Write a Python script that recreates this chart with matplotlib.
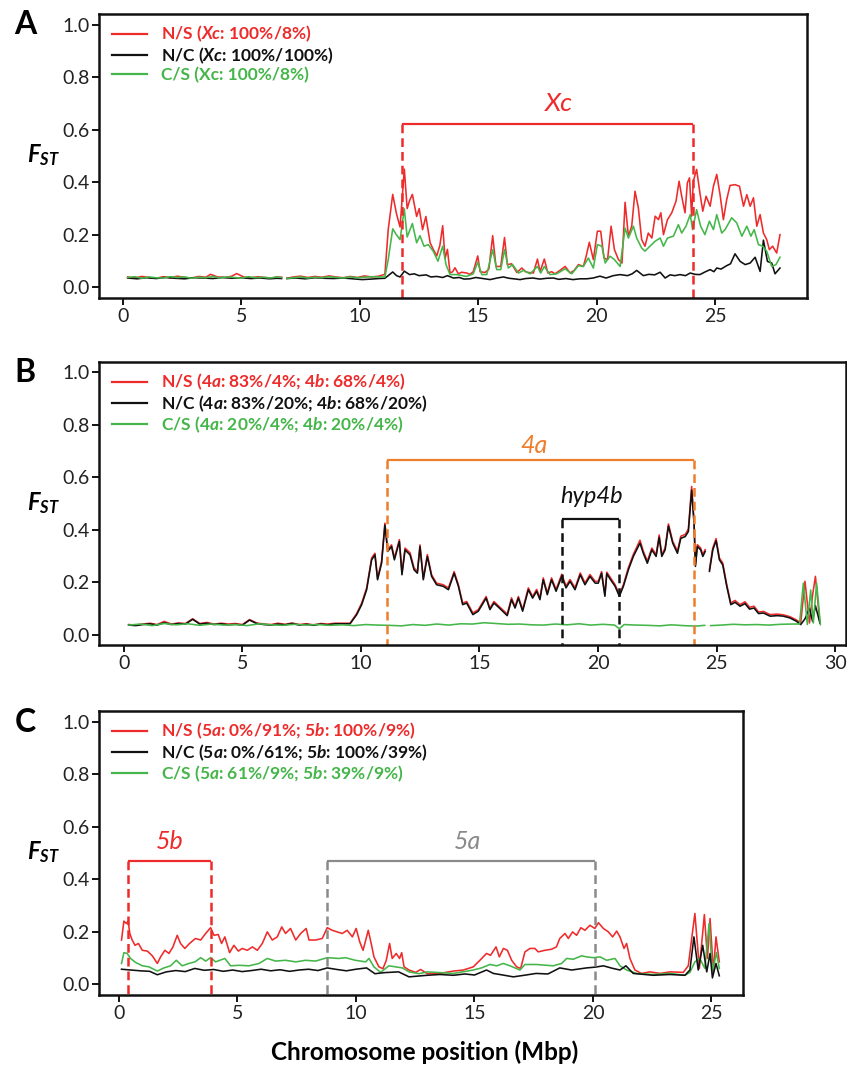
import numpy as np
import matplotlib
matplotlib.use('Agg')
import matplotlib.pyplot as plt

plt.rcParams['font.family'] = ['Lato', 'DejaVu Sans']
plt.rcParams['mathtext.fontset'] = 'custom'
plt.rcParams['mathtext.it'] = 'Lato:italic:bold'
plt.rcParams['mathtext.rm'] = 'Lato:bold'
plt.rcParams['mathtext.bf'] = 'Lato:bold'

nan = np.nan
RED = '#ee2b2b'
GREEN = '#45b649'
BLACK = '#111111'
ORANGE = '#ee7d2c'
GREY = '#8a8a8a'

# ---------------- panel A (Xc) ----------------
a_ns_x = [0.2,0.5,0.8,1.1,1.4,1.7,2.0,2.3,2.6,2.9,3.2,3.5,3.7,4.0,4.3,4.6,4.8,5.1,5.4,5.7,6.0,6.3,6.5,6.7,nan,
          6.92,7.2,7.5,7.8,8.1,8.4,8.7,9.0,9.3,9.6,9.9,10.2,10.5,10.8,
          11.06,11.2,11.39,11.55,11.7,11.88,12.0,12.1,12.22,12.4,12.51,12.65,12.79,12.97,13.1,13.25,13.38,13.5,13.6,13.7,
          13.81,13.92,14.02,14.16,14.3,14.51,14.65,14.79,14.98,15.08,15.29,15.45,15.61,15.75,15.95,16.11,16.23,16.41,
          16.63,16.84,17.0,17.12,17.33,17.5,17.61,17.79,17.94,18.1,18.24,18.45,18.67,18.88,19.05,19.23,19.44,19.56,
          19.69,19.86,20.03,20.17,20.31,20.46,20.61,20.75,20.92,21.07,21.2,21.34,21.48,21.62,21.76,21.9,22.04,22.18,
          22.33,22.47,22.61,22.71,22.82,22.99,23.17,23.35,23.48,23.59,23.73,23.83,23.92,24.01,24.08,24.22,24.36,24.48,
          24.62,24.79,24.93,25.07,25.21,25.35,25.49,25.63,25.84,26.03,26.2,26.34,26.48,26.62,26.76,26.9,27.04,27.18,
          27.29,27.43,27.6,27.74]
a_ns_y = [0.040,0.036,0.042,0.038,0.035,0.041,0.037,0.043,0.038,0.036,0.042,0.039,0.050,0.040,0.038,0.043,0.053,0.040,0.037,0.041,0.038,0.036,0.040,0.039,nan,
          0.035,0.040,0.043,0.038,0.042,0.039,0.044,0.040,0.037,0.042,0.038,0.044,0.040,0.043,
          0.050,0.220,0.354,0.280,0.230,0.450,0.300,0.330,0.354,0.270,0.300,0.220,0.270,0.170,0.145,0.120,0.160,0.235,0.110,0.145,
          0.055,0.060,0.075,0.052,0.058,0.055,0.050,0.060,0.120,0.060,0.057,0.070,0.197,0.080,0.080,0.190,0.087,0.090,
          0.057,0.074,0.060,0.057,0.055,0.108,0.060,0.108,0.055,0.060,0.052,0.065,0.080,0.055,0.065,0.087,0.080,0.120,
          0.172,0.106,0.214,0.214,0.112,0.106,0.233,0.144,0.106,0.093,0.324,0.195,0.233,0.366,0.303,0.182,0.157,0.207,
          0.188,0.271,0.258,0.284,0.201,0.258,0.284,0.328,0.404,0.347,0.284,0.398,0.417,0.271,0.404,0.449,0.359,0.290,
          0.347,0.309,0.385,0.430,0.353,0.258,0.334,0.388,0.391,0.385,0.309,0.353,0.309,0.341,0.233,0.277,0.207,0.182,
          0.144,0.157,0.131,0.201]

a_cs_x = [0.2,0.5,0.8,1.1,1.4,1.7,2.0,2.3,2.6,2.9,3.2,3.5,3.8,4.1,4.4,4.7,5.0,5.3,5.6,5.9,6.2,6.5,6.7,nan,
          6.92,7.2,7.5,7.8,8.1,8.4,8.7,9.0,9.3,9.6,9.9,10.2,10.5,10.8,
          11.06,11.2,11.39,11.55,11.7,11.88,12.0,12.22,12.4,12.54,12.71,12.89,13.1,13.3,13.5,13.64,13.81,14.09,14.51,
          14.79,14.98,15.15,15.36,15.61,15.78,15.95,16.11,16.27,16.45,16.7,16.91,17.19,17.5,17.64,17.79,18.03,18.31,
          18.67,18.95,19.23,19.44,19.65,19.86,20.03,20.22,20.36,20.56,20.75,20.99,21.2,21.34,21.55,21.69,21.9,22.04,
          22.25,22.47,22.68,22.82,22.99,23.24,23.45,23.59,23.77,23.95,24.05,24.22,24.39,24.57,24.76,24.93,25.07,25.28,
          25.42,25.7,25.91,26.13,26.34,26.51,26.65,26.83,27.01,27.18,27.39,27.57,27.74]
a_cs_y = [0.038,0.041,0.035,0.040,0.037,0.036,0.041,0.038,0.040,0.035,0.039,0.037,0.042,0.036,0.040,0.038,0.036,0.041,0.037,0.039,0.036,0.040,0.038,nan,
          0.034,0.037,0.040,0.036,0.039,0.037,0.041,0.038,0.036,0.040,0.037,0.039,0.041,0.040,
          0.040,0.106,0.223,0.200,0.182,0.299,0.192,0.243,0.170,0.197,0.157,0.163,0.138,0.100,0.157,0.087,0.049,0.049,0.042,
          0.052,0.096,0.049,0.049,0.144,0.068,0.068,0.144,0.074,0.087,0.055,0.065,0.052,0.080,0.055,0.080,0.049,0.052,
          0.071,0.052,0.083,0.080,0.112,0.074,0.163,0.157,0.093,0.119,0.106,0.080,0.226,0.188,0.233,0.188,0.150,0.138,
          0.157,0.176,0.188,0.157,0.188,0.195,0.239,0.207,0.233,0.277,0.220,0.296,0.233,0.201,0.252,0.220,0.277,0.207,
          0.220,0.265,0.246,0.195,0.233,0.195,0.220,0.163,0.157,0.138,0.080,0.087,0.115]

a_nc_x = [0.2,0.6,1.0,1.4,1.8,2.2,2.6,3.0,3.4,3.8,4.2,4.6,5.0,5.4,5.8,6.2,6.5,6.7,nan,
          6.92,7.3,7.7,8.1,8.5,8.9,9.3,9.7,10.1,10.5,10.8,
          11.06,11.2,11.39,11.55,11.7,11.88,12.1,12.3,12.5,12.8,13.0,13.25,13.5,13.7,13.95,14.2,14.4,14.65,14.9,15.2,
          15.5,15.8,16.06,16.3,16.5,16.77,17.0,17.3,17.6,17.9,18.17,18.4,18.7,19.0,19.3,19.58,19.85,20.14,20.4,20.7,
          20.99,21.3,21.5,21.69,21.97,22.2,22.45,22.68,22.89,23.1,23.3,23.52,23.75,23.95,24.15,24.36,24.55,24.79,
          24.95,25.07,25.25,25.49,25.65,25.84,26.06,26.27,26.48,26.69,26.9,27.04,27.21,27.39,27.53,27.74]
a_nc_y = [0.036,0.033,0.037,0.034,0.038,0.035,0.033,0.037,0.036,0.034,0.038,0.035,0.037,0.034,0.036,0.033,0.035,0.034,nan,
          0.034,0.036,0.033,0.037,0.035,0.034,0.036,0.033,0.030,0.032,0.034,
          0.035,0.045,0.059,0.045,0.040,0.062,0.049,0.052,0.045,0.048,0.040,0.042,0.038,0.045,0.036,0.038,0.032,0.033,0.038,0.034,
          0.030,0.036,0.040,0.035,0.033,0.030,0.034,0.036,0.032,0.035,0.036,0.031,0.034,0.030,0.033,0.033,0.036,0.043,0.036,0.045,
          0.049,0.045,0.052,0.065,0.045,0.050,0.048,0.058,0.036,0.048,0.045,0.049,0.045,0.055,0.050,0.049,0.058,0.068,
          0.060,0.074,0.070,0.083,0.090,0.128,0.099,0.087,0.093,0.115,0.061,0.180,0.099,0.093,0.052,0.074]

# ---------------- panel B (4a / hyp4b) ----------------
b_x = [0.2,0.5,0.8,1.1,1.4,1.7,2.0,2.3,2.6,2.9,3.2,3.5,3.8,4.1,4.4,4.7,5.0,5.3,5.6,5.9,6.2,6.5,6.8,7.1,7.4,7.7,8.0,8.3,8.6,8.9,
       9.11,9.54,9.82,10.03,10.24,10.45,10.59,10.70,10.87,11.01,11.13,11.29,11.41,11.62,11.73,11.86,12.07,12.24,12.38,12.49,
       12.63,12.80,12.98,13.19,13.47,13.69,13.93,14.11,14.29,14.46,14.72,14.95,15.28,15.44,15.61,15.84,16.17,16.35,16.50,16.64,
       16.82,17.06,17.24,17.41,17.55,17.69,17.86,18.04,18.23,18.47,18.65,18.82,19.03,19.25,19.45,19.66,19.88,20.01,20.15,20.29,
       20.37,20.53,20.72,20.90,21.07,21.28,21.49,21.77,21.91,22.08,22.27,22.45,22.58,22.69,22.83,22.97,23.15,23.35,23.49,23.68,
       23.81,23.95,24.05,24.11,24.19,24.33,24.42,24.52,nan,24.70,24.84,24.98,25.12,25.26,25.43,25.60,25.78,25.99,26.20,26.39,
       26.58,26.77,26.98,27.26,27.57,27.82,28.10,28.36,28.55,28.73,28.92,29.05,29.17,29.36]
b_nc_y = [0.036,0.034,0.038,0.041,0.036,0.045,0.038,0.042,0.040,0.058,0.040,0.043,0.038,0.041,0.037,0.039,0.036,0.055,0.042,0.038,
          0.036,0.040,0.037,0.042,0.036,0.039,0.035,0.040,0.037,0.041,
          0.041,0.041,0.076,0.114,0.171,0.285,0.304,0.209,0.272,0.418,0.317,0.336,0.285,0.355,0.228,0.323,0.304,0.247,0.234,0.336,
          0.209,0.298,0.222,0.190,0.184,0.171,0.234,0.184,0.114,0.120,0.076,0.089,0.139,0.095,0.120,0.101,0.072,0.133,0.101,0.139,
          0.089,0.171,0.139,0.165,0.133,0.209,0.152,0.209,0.165,0.222,0.178,0.203,0.171,0.228,0.190,0.222,0.196,0.196,0.234,0.146,
          0.232,0.209,0.184,0.146,0.184,0.247,0.298,0.349,0.310,0.272,0.323,0.298,0.371,0.298,0.323,0.414,0.349,0.310,0.367,0.374,
          0.393,0.551,0.424,0.260,0.336,0.323,0.298,0.317,nan,0.241,0.323,0.358,0.285,0.266,0.184,0.114,0.123,0.108,0.118,0.097,
          0.101,0.080,0.082,0.070,0.072,0.070,0.063,0.051,0.038,0.060,0.100,0.050,0.110,0.044]
b_ns_y = [0.038,0.036,0.040,0.043,0.038,0.050,0.040,0.044,0.042,0.060,0.042,0.046,0.040,0.043,0.040,0.042,0.038,0.057,0.044,0.040,
          0.038,0.043,0.039,0.044,0.038,0.041,0.037,0.042,0.040,0.043,
          0.043,0.043,0.080,0.120,0.178,0.292,0.310,0.215,0.280,0.425,0.325,0.342,0.292,0.362,0.235,0.330,0.312,0.254,0.240,0.342,
          0.215,0.305,0.228,0.196,0.190,0.178,0.240,0.190,0.120,0.126,0.082,0.095,0.145,0.100,0.126,0.106,0.078,0.140,0.106,0.145,
          0.095,0.178,0.145,0.172,0.140,0.216,0.158,0.216,0.172,0.230,0.185,0.210,0.178,0.235,0.197,0.229,0.203,0.203,0.240,0.152,
          0.238,0.216,0.190,0.152,0.190,0.255,0.306,0.360,0.318,0.280,0.330,0.305,0.380,0.305,0.330,0.422,0.356,0.318,0.375,0.382,
          0.402,0.565,0.432,0.268,0.343,0.330,0.305,0.324,nan,0.248,0.330,0.366,0.292,0.273,0.190,0.120,0.130,0.114,0.125,0.104,
          0.108,0.086,0.088,0.076,0.078,0.075,0.068,0.056,0.045,0.203,0.044,0.150,0.222,0.044]

b_cs_x = [0.2,0.7,1.2,1.7,2.2,2.7,3.2,3.7,4.2,4.7,5.2,5.7,6.2,6.7,7.2,7.7,8.2,8.7,9.2,9.7,10.2,10.7,11.2,11.7,12.2,12.7,
          13.2,13.7,14.2,14.7,15.2,15.7,16.2,16.7,17.2,17.7,18.2,18.7,19.2,19.7,20.2,20.7,20.9,21.1,21.6,22.1,22.6,23.1,
          23.6,24.1,24.5,nan,24.75,25.2,25.7,26.2,26.7,27.2,27.7,28.2,28.5,28.66,28.83,28.97,29.08,29.22,29.38]
b_cs_y = [0.036,0.040,0.034,0.042,0.037,0.041,0.035,0.040,0.036,0.038,0.034,0.041,0.037,0.035,0.039,0.036,0.038,0.035,0.037,
          0.034,0.038,0.036,0.035,0.033,0.038,0.035,0.040,0.036,0.041,0.040,0.045,0.042,0.039,0.040,0.037,0.036,0.040,0.037,
          0.041,0.036,0.039,0.036,0.022,0.038,0.036,0.035,0.033,0.037,0.034,0.032,0.035,nan,0.034,0.036,0.039,0.037,0.038,
          0.036,0.039,0.040,0.040,0.196,0.038,0.170,0.044,0.196,0.038]

# ---------------- panel C (5a / 5b) ----------------
c_ns_x = [0.11,0.21,0.31,0.39,0.46,0.56,0.68,0.82,0.99,1.20,1.41,1.62,1.76,1.94,2.11,2.28,2.46,2.60,2.78,2.98,3.23,3.45,
          3.66,3.87,4.01,4.19,4.33,4.47,4.67,4.85,5.04,5.20,5.42,5.63,5.84,6.05,6.26,6.47,6.68,6.87,7.03,7.24,7.46,7.67,
          7.90,8.02,8.30,8.58,8.79,9.00,9.21,9.42,9.63,9.85,10.01,10.16,10.30,10.52,10.66,10.76,10.97,11.14,11.28,11.42,
          11.53,11.70,11.84,11.93,12.03,12.24,12.52,12.73,13.01,13.54,14.11,14.53,14.95,15.23,15.51,15.68,15.91,16.05,
          16.22,16.39,16.57,16.78,16.95,17.13,17.34,17.55,17.69,17.97,18.25,18.46,18.60,18.82,18.96,19.14,19.31,19.49,
          19.66,19.87,20.08,20.23,20.44,20.65,20.83,21.00,21.14,21.31,21.42,21.56,21.77,22.05,22.40,22.83,23.25,23.81,
          24.02,24.30,24.49,24.70,24.83,24.94,25.08,25.19,25.33]
c_ns_y = [0.169,0.241,0.232,0.241,0.194,0.169,0.149,0.156,0.130,0.127,0.109,0.080,0.105,0.130,0.118,0.143,0.187,0.156,
          0.137,0.156,0.175,0.169,0.194,0.216,0.187,0.190,0.156,0.181,0.121,0.149,0.127,0.137,0.130,0.143,0.130,0.156,
          0.200,0.169,0.181,0.219,0.194,0.213,0.169,0.194,0.213,0.169,0.169,0.175,0.216,0.206,0.200,0.194,0.206,0.181,
          0.213,0.162,0.130,0.206,0.149,0.105,0.067,0.060,0.092,0.156,0.099,0.118,0.099,0.121,0.067,0.055,0.046,0.057,
          0.041,0.042,0.051,0.055,0.067,0.092,0.118,0.111,0.143,0.105,0.137,0.130,0.092,0.067,0.061,0.124,0.137,0.137,
          0.124,0.130,0.134,0.143,0.175,0.194,0.175,0.200,0.187,0.216,0.206,0.225,0.213,0.235,0.213,0.200,0.181,0.203,
          0.181,0.137,0.156,0.099,0.055,0.042,0.048,0.042,0.048,0.046,0.071,0.270,0.061,0.266,0.099,0.251,0.048,0.181,0.086]

c_cs_x = [0.11,0.21,0.35,0.49,0.70,0.99,1.27,1.62,1.90,2.18,2.42,2.67,2.95,3.21,3.45,3.66,3.87,4.08,4.47,4.71,5.07,5.49,
          5.91,6.26,6.61,7.03,7.46,7.88,8.30,8.79,9.28,9.56,9.97,10.41,10.55,10.76,11.04,11.39,11.67,11.96,12.24,12.66,
          13.01,14.11,14.95,15.30,15.65,15.94,16.22,16.50,16.92,17.13,17.62,18.32,18.68,18.89,19.17,19.52,19.73,20.01,
          20.30,20.58,20.93,21.14,21.42,21.84,22.54,23.25,23.88,24.09,24.30,24.51,24.72,24.90,25.04,25.21,25.33]
c_cs_y = [0.080,0.121,0.118,0.099,0.084,0.071,0.067,0.051,0.063,0.071,0.092,0.071,0.080,0.086,0.102,0.089,0.102,0.086,
          0.099,0.071,0.073,0.071,0.080,0.099,0.089,0.092,0.086,0.092,0.089,0.102,0.099,0.102,0.092,0.086,0.099,0.067,
          0.046,0.071,0.067,0.063,0.048,0.041,0.048,0.042,0.055,0.063,0.076,0.071,0.080,0.071,0.055,0.076,0.076,0.071,
          0.080,0.099,0.096,0.109,0.105,0.102,0.105,0.092,0.099,0.071,0.055,0.042,0.038,0.042,0.035,0.046,0.086,0.099,
          0.061,0.232,0.048,0.121,0.061]

c_nc_x = [0.11,0.5,0.9,1.3,1.62,2.0,2.4,2.8,3.2,3.6,4.0,4.4,4.8,5.2,5.6,6.0,6.4,6.8,7.2,7.6,8.0,8.4,8.79,9.2,9.6,
          10.0,10.45,10.8,11.2,11.8,12.24,13.01,13.54,14.11,14.6,15.0,15.51,15.8,16.2,16.64,17.1,17.6,18.1,18.6,
          19.1,19.73,20.1,20.44,20.8,21.14,21.39,21.70,22.54,23.25,23.88,24.09,24.26,24.44,24.63,24.80,24.94,25.04,
          25.19,25.33]
c_nc_y = [0.058,0.055,0.052,0.050,0.037,0.048,0.053,0.049,0.061,0.054,0.057,0.050,0.055,0.049,0.053,0.058,0.052,0.056,
          0.050,0.055,0.058,0.053,0.063,0.057,0.052,0.058,0.063,0.041,0.045,0.048,0.029,0.035,0.038,0.035,0.040,0.036,
          0.055,0.042,0.036,0.029,0.035,0.042,0.040,0.063,0.055,0.063,0.066,0.071,0.062,0.055,0.071,0.042,0.035,0.038,
          0.035,0.055,0.181,0.055,0.149,0.048,0.118,0.025,0.080,0.033]

# figure, everything placed in pixel units of the 847x1068 picture
W, H = 847, 1068
fig = plt.figure(figsize=(W / 100, H / 100), dpi=100)

def box(left, top, right, bottom):
    return [left / W, 1 - bottom / H, (right - left) / W, (bottom - top) / H]

axA = fig.add_axes(box(99, 14, 807, 298))
axB = fig.add_axes(box(99, 362, 846, 645))
axC = fig.add_axes(box(99, 711, 743, 995))

LW = 1.15

lA_ns, = axA.plot(a_ns_x, a_ns_y, color=RED, lw=LW)
lA_nc, = axA.plot(a_nc_x, a_nc_y, color=BLACK, lw=LW)
lA_cs, = axA.plot(a_cs_x, a_cs_y, color=GREEN, lw=LW)

lB_ns, = axB.plot(b_x, b_ns_y, color=RED, lw=LW)
lB_nc, = axB.plot(b_x, b_nc_y, color=BLACK, lw=LW)
lB_cs, = axB.plot(b_cs_x, b_cs_y, color=GREEN, lw=LW)

lC_ns, = axC.plot(c_ns_x, c_ns_y, color=RED, lw=LW)
lC_cs, = axC.plot(c_cs_x, c_cs_y, color=GREEN, lw=LW)
lC_nc, = axC.plot(c_nc_x, c_nc_y, color=BLACK, lw=LW)

axA.set_xlim(-1.01, 28.88)
axB.set_xlim(-1.05, 30.46)
axC.set_xlim(-0.84, 26.33)

for ax in (axA, axB, axC):
    ax.set_ylim(-0.04, 1.04)
    ax.set_yticks([0, 0.2, 0.4, 0.6, 0.8, 1.0])
    ax.set_yticklabels(['0.0', '0.2', '0.4', '0.6', '0.8', '1.0'])
    ax.tick_params(direction='out', length=5, width=1.3, labelsize=14, pad=2,
                   labelcolor='#222222', top=False, right=False)
    for s in ax.spines.values():
        s.set_linewidth(1.8)
        s.set_color('#111111')
axA.set_xticks([0, 5, 10, 15, 20, 25])
axB.set_xticks([0, 5, 10, 15, 20, 25, 30])
axC.set_xticks([0, 5, 10, 15, 20, 25])


def bracket(ax, x0, x1, y, color, label, lx, ly, size=17):
    ax.plot([x0, x1], [y, y], color=color, lw=1.6, solid_capstyle='butt')
    ax.plot([x0, x0], [y, -0.04], color=color, lw=1.8, ls=(0, (3.5, 2)))
    ax.plot([x1, x1], [y, -0.04], color=color, lw=1.8, ls=(0, (3.5, 2)))
    ax.text(lx, ly, label, color=color, fontsize=size, style='italic',
            ha='center', va='center')


bracket(axA, 11.8, 24.07, 0.62, RED, 'Xc', 18.4, 0.70, size=19)
bracket(axB, 11.1, 24.05, 0.665, ORANGE, '4a', 17.3, 0.72, size=18)
bracket(axB, 18.5, 20.9, 0.44, BLACK, 'hyp4b', 19.75, 0.525, size=17)
bracket(axC, 0.38, 3.9, 0.47, RED, '5b', 2.15, 0.545, size=18)
bracket(axC, 8.8, 20.1, 0.47, GREY, '5a', 14.7, 0.545, size=18)

legends = [
    (axA, [lA_ns, lA_nc, lA_cs],
     ['N/S ($\\mathit{Xc}$: 100%/8%)', 'N/C ($\\mathit{Xc}$: 100%/100%)', 'C/S (Xc: 100%/8%)'], 14),
    (axB, [lB_ns, lB_nc, lB_cs],
     ['N/S ($\\mathit{4a}$: 83%/4%; $\\mathit{4b}$: 68%/4%)',
      'N/C ($\\mathit{4a}$: 83%/20%; $\\mathit{4b}$: 68%/20%)',
      'C/S ($\\mathit{4a}$: 20%/4%; $\\mathit{4b}$: 20%/4%)'], 362),
    (axC, [lC_ns, lC_nc, lC_cs],
     ['N/S ($\\mathit{5a}$: 0%/91%; $\\mathit{5b}$: 100%/9%)',
      'N/C ($\\mathit{5a}$: 0%/61%; $\\mathit{5b}$: 100%/39%)',
      'C/S ($\\mathit{5a}$: 61%/9%; $\\mathit{5b}$: 39%/9%)'], 711),
]
for ax, handles, labels, top in legends:
    leg = ax.legend(handles, labels, loc='upper left',
                    bbox_to_anchor=(112 / W, 1 - (top + 10) / H), bbox_transform=fig.transFigure,
                    frameon=False, borderaxespad=0, borderpad=0, handlelength=2.0,
                    handletextpad=0.8, labelspacing=0.05, labelcolor='linecolor',
                    prop=dict(weight='bold', size=12.5))
    for h in leg.legend_handles:
        h.set_linewidth(1.6)

for letter, top in (('A', 14), ('B', 362), ('C', 711)):
    fig.text(25 / W, 1 - (top + 11) / H, letter, fontsize=23, fontweight='bold',
             ha='center', va='center')
    fig.text(43 / W, 1 - (top + 141) / H, '$F_{ST}$', fontsize=17,
             ha='center', va='center')

fig.text(425 / W, 1 - 1052 / H, 'Chromosome position (Mbp)', fontsize=17.5,
         fontweight='bold', ha='center', va='center')

fig.savefig('out.png', dpi=100)
